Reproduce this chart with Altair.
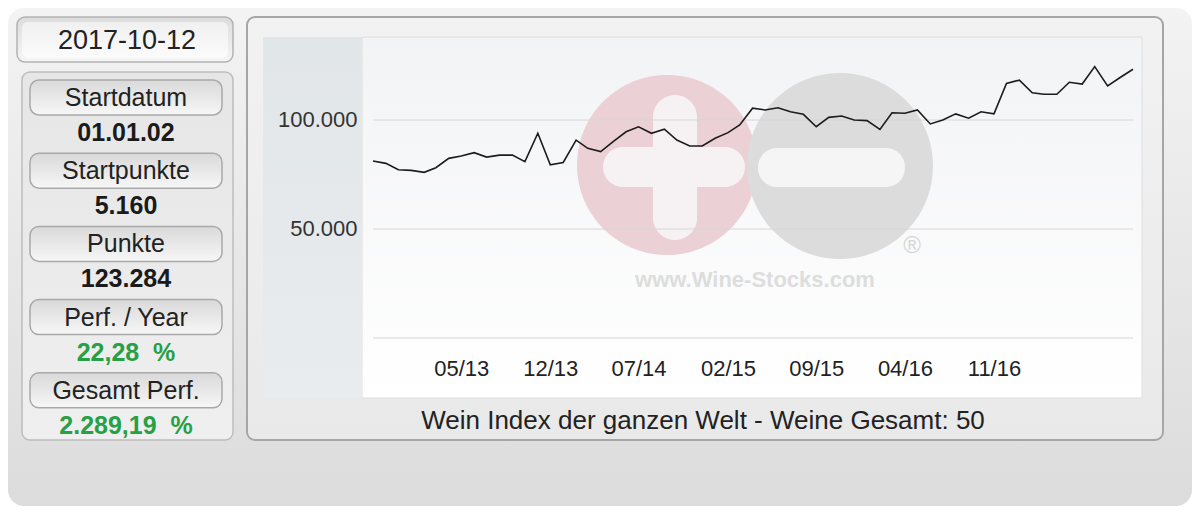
import altair as alt
import pandas as pd

# ---------------- data ----------------
report_date = "2017-10-12"
start_month = "2012-10-01"
# monthly index points, Oct 2012 .. Oct 2017
index_points = [81200, 80100, 77200, 76900, 76000, 78100, 82400, 83500, 85000, 83000,
                83900, 83900, 80900, 93900, 79400, 80500, 90800, 87000, 85500, 90100,
                94600, 96900, 93900, 95800, 90800, 88100, 88100, 91600, 94200, 97700,
                105400, 104600, 105600, 103800, 102600, 96900, 101200, 101800, 100000, 99700,
                95700, 103300, 103100, 104600, 98200, 100000, 102800, 100800, 103800, 102800,
                116800, 118300, 112500, 111800, 111800, 117300, 116500, 124500, 115600, 119600,
                123284]
x_tick_years = [2013, 2013, 2014, 2015, 2015, 2016, 2016]
x_tick_months = [5, 12, 7, 2, 9, 4, 11]
y_tick_values = [50000, 100000]
grid_values = [0, 50000, 100000]

stat_labels = ["Startdatum", "Startpunkte", "Punkte", "Perf. / Year", "Gesamt Perf."]
stat_values = ["01.01.02", "5.160", "123.284", "22,28\u00a0\u00a0%", "2.289,19\u00a0\u00a0%"]
chart_title = "Wein Index der ganzen Welt - Weine Gesamt: 50"
watermark_text = "www.Wine-Stocks.com"
registered = "\u00ae"

dates = pd.date_range(start_month, periods=len(index_points), freq="MS")
line_df = pd.DataFrame({"date": dates, "value": index_points})
grid_df = pd.DataFrame({"value": grid_values})
one = pd.DataFrame({"k": [0]})

FONT = "Liberation Sans, Arial, sans-serif"
PX0, PY0 = 373, 37          # page position of the plot origin
PLOT_W, PLOT_H = 760, 301


def vx(px):
    return alt.value(px - PX0)


def vy(py):
    return alt.value(py - PY0)


def vgrad(c0, c1):
    return {"gradient": "linear", "x1": 0, "y1": 0, "x2": 0, "y2": 1,
            "stops": [{"offset": 0, "color": c0}, {"offset": 1, "color": c1}]}


def box(x1, y1, x2, y2, fill, stroke=None, sw=0, r=0):
    kw = dict(fill=fill, cornerRadius=r)
    if stroke:
        kw.update(stroke=stroke, strokeWidth=sw)
    else:
        kw.update(strokeWidth=0)
    return alt.Chart(one).mark_rect(**kw).encode(
        x=vx(x1), x2=vx(x2), y=vy(y1), y2=vy(y2))


def label(txt, x, y, size, color="#222222", weight="normal"):
    return alt.Chart(one).mark_text(
        text=txt, fontSize=size, color=color, fontWeight=weight, font=FONT,
        align="center", baseline="middle").encode(x=vx(x), y=vy(y))


layers = []
# outer background
layers.append(box(8, 8, 1192, 506, vgrad("#f3f3f3", "#dcdcdc"), r=16))

# left: date box
layers.append(box(17, 17, 233, 62, vgrad("#dcdcdc", "#f6f6f6"), stroke="#b3b3b3", sw=1.5, r=8))
layers.append(box(22, 22, 228, 58, vgrad("#f0f0f0", "#fbfbfb"), r=6))
layers.append(label(report_date, 127, 41, 27))

# left: stats panel
layers.append(box(22, 72, 233, 440, vgrad("#e6e6e6", "#efefef"), stroke="#bdbdbd", sw=1.5, r=8))
for i, (lab, val) in enumerate(zip(stat_labels, stat_values)):
    top = 80 + i * 73.2
    layers.append(box(30, top, 222, top + 35, vgrad("#d9d9d9", "#f7f7f7"), stroke="#a9a9a9", sw=1.5, r=9))
    layers.append(label(lab, 126, top + 18, 25))
    col = "#27a045" if "%" in val else "#1a1a1a"
    layers.append(label(val, 126, top + 53, 25, color=col, weight="bold"))

# right: chart panel
layers.append(box(247, 17, 1163, 440, vgrad("#f2f2f2", "#e9e9e9"), stroke="#a6a6a6", sw=2, r=8))
layers.append(box(362, 37, 1142, 398, vgrad("#f2f3f5", "#ffffff"), stroke="#dedede", sw=1))
layers.append(box(263, 37, 362, 398, vgrad("#e1e6e9", "#e9ecee")))
layers.append(label(chart_title, 703, 421, 26))

# watermark
layers.append(box(577, 75, 757, 255, "#ebd0d6", r=90))
layers.append(box(653, 95, 697, 240, "#f6f1f2", r=22))
layers.append(box(603, 147, 745, 187, "#f6f1f2", r=20))
layers.append(box(747, 73, 933, 259, "#dcdcdc", r=93))
layers.append(box(758, 148, 905, 187, "#f5f5f5", r=19))
layers.append(label(registered, 912, 246, 24, color="#d6d6d6"))
layers.append(label(watermark_text, 755, 280, 22, color="#dddddd", weight="bold"))

# shared y axis / scale
yscale = alt.Scale(domain=[0, 138070], nice=False, zero=True)
yaxis = alt.Axis(values=y_tick_values,
                 labelExpr="replace(format(datum.value, ','), ',', '.')",
                 labelFontSize=22, labelFont=FONT, labelColor="#333333",
                 grid=False, domain=False, ticks=False, labelPadding=16,
                 title=None, zindex=1)

# grid lines
grid = alt.Chart(grid_df).mark_rule(color="#d6d6d6", strokeWidth=1).encode(
    y=alt.Y("value:Q", scale=yscale, axis=yaxis))
layers.append(grid)

# the index line
x_vals = [alt.DateTime(year=y, month=m, date=1) for y, m in zip(x_tick_years, x_tick_months)]
line = alt.Chart(line_df).mark_line(color="#1c1c1c", strokeWidth=1.6).encode(
    x=alt.X("date:T",
            scale=alt.Scale(domain=[alt.DateTime(year=2012, month=10, date=1),
                                    alt.DateTime(year=2017, month=10, date=1)], nice=False),
            axis=alt.Axis(values=x_vals, format="%m/%y", labelFontSize=22, labelFont=FONT,
                          labelColor="#222222", grid=False, domain=False, ticks=False,
                          labelPadding=20, title=None, zindex=1, labelFlush=False,
                          labelOverlap=False)),
    y=alt.Y("value:Q", scale=yscale, axis=yaxis),
)
layers.append(line)

chart = alt.layer(*layers).properties(
    width=PLOT_W, height=PLOT_H,
    autosize=alt.AutoSizeParams(type="none"),
    padding={"left": 365, "top": 29, "right": 59, "bottom": 168},
    background="#ffffff",
).configure_view(strokeWidth=0)

chart.save("out.html", embed_options={"renderer": "svg", "actions": False})
